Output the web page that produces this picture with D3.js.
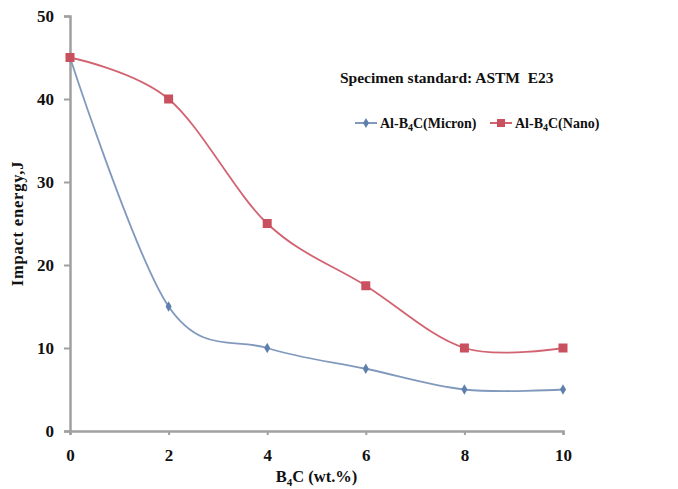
<!DOCTYPE html>
<html>
<head>
<meta charset="utf-8">
<script src="https://cdn.jsdelivr.net/npm/d3@7"></script>
<style>
  body { margin: 0; background: #fff; }
  text { font-family: "Liberation Serif", "DejaVu Serif", serif; font-weight: bold; fill: #111; }
</style>
</head>
<body>
<div id="chart"></div>
<script>
// data
var b4c = [0, 2, 4, 6, 8, 10];
var micron = [45, 15, 10, 7.5, 5, 5];
var nano = [45, 40, 25, 17.5, 10, 10];
var xTicks = [0, 2, 4, 6, 8, 10];
var yTicks = [0, 10, 20, 30, 40, 50];

var width = 678, height = 489;
var margin = {top: 16, right: 115, bottom: 58, left: 70};

var svg = d3.select("#chart")
  .append("svg")
    .attr("width", width)
    .attr("height", height);

var x = d3.scaleLinear()
  .domain([0, 10])
  .range([margin.left, width - margin.right]);

var y = d3.scaleLinear()
  .domain([0, 50])
  .range([height - margin.bottom, margin.top]);

var axisColor = "#a0a0a0";

// Y axis
var yAxis = svg.append("g")
  .attr("transform", "translate(" + margin.left + ",0)")
  .call(d3.axisLeft(y).tickValues(yTicks).tickSize(6).tickPadding(10));
yAxis.select(".domain").attr("stroke", axisColor).attr("stroke-width", 2.5);
yAxis.selectAll(".tick line").attr("stroke", axisColor).attr("stroke-width", 2);
yAxis.selectAll(".tick text").style("font-size", "17px");

// X axis
var xAxis = svg.append("g")
  .attr("transform", "translate(0," + y(0) + ")")
  .call(d3.axisBottom(x).tickValues(xTicks).tickSize(4).tickSizeOuter(4).tickPadding(14));
xAxis.select(".domain").attr("stroke", axisColor).attr("stroke-width", 2.5);
xAxis.selectAll(".tick line").attr("stroke", axisColor).attr("stroke-width", 2);
xAxis.selectAll(".tick text").style("font-size", "17px");

// axis titles
svg.append("text")
  .attr("transform", "translate(23," + y(25) + ") rotate(-90)")
  .attr("text-anchor", "middle")
  .style("font-size", "16.5px")
  .style("letter-spacing", "0.8px")
  .text("Impact energy,J");

var xt = svg.append("text")
  .attr("x", x(5))
  .attr("y", 482)
  .attr("text-anchor", "middle")
  .style("font-size", "16.5px");
xt.append("tspan").text("B");
xt.append("tspan").attr("dy", 4).style("font-size", "11px").text("4");
xt.append("tspan").attr("dy", -4).text("C (wt.%)");

// lines
var line = d3.line()
  .x(function(d, i) { return x(b4c[i]); })
  .y(function(d) { return y(d); })
  .curve(d3.curveCardinal.tension(0));

var blue = "#8199bd", blueMark = "#5f80ad";
var red = "#d26472", redMark = "#c9505e";

svg.append("path")
  .datum(micron)
  .attr("fill", "none")
  .attr("stroke", blue)
  .attr("stroke-width", 1.8)
  .attr("d", line);

svg.append("path")
  .datum(nano)
  .attr("fill", "none")
  .attr("stroke", red)
  .attr("stroke-width", 1.8)
  .attr("d", line);

// markers
svg.append("g")
  .selectAll("path")
  .data(micron)
  .join("path")
    .attr("transform", function(d, i) { return "translate(" + x(b4c[i]) + "," + y(d) + ")"; })
    .attr("d", d3.symbol().type(d3.symbolDiamond).size(32))
    .attr("fill", blueMark);

svg.append("g")
  .selectAll("rect")
  .data(nano)
  .join("rect")
    .attr("x", function(d, i) { return x(b4c[i]) - 4.5; })
    .attr("y", function(d) { return y(d) - 4.5; })
    .attr("width", 9)
    .attr("height", 9)
    .attr("fill", redMark);

// annotation
svg.append("text")
  .attr("x", 340)
  .attr("y", 83)
  .attr("xml:space", "preserve")
  .style("white-space", "pre")
  .style("font-size", "15.5px")
  .text("Specimen standard: ASTM  E23");

// legend
function legendItem(x0, color, markColor, square, label) {
  var g = svg.append("g").attr("transform", "translate(" + x0 + ",123)");
  g.append("line").attr("x1", 0).attr("x2", 22).attr("stroke", color).attr("stroke-width", 2);
  if (square) {
    g.append("rect").attr("x", 7).attr("y", -4).attr("width", 8).attr("height", 8).attr("fill", markColor);
  } else {
    g.append("path").attr("transform", "translate(11,0)")
      .attr("d", d3.symbol().type(d3.symbolDiamond).size(30)).attr("fill", markColor);
  }
  var t = g.append("text").attr("x", 25).attr("y", 5).style("font-size", "14px");
  t.append("tspan").text("Al-B");
  t.append("tspan").attr("dy", 3).style("font-size", "10px").text("4");
  t.append("tspan").attr("dy", -3).text(label);
}
legendItem(355, blue, blueMark, false, "C(Micron)");
legendItem(490, red, redMark, true, "C(Nano)");
</script>
</body>
</html>
